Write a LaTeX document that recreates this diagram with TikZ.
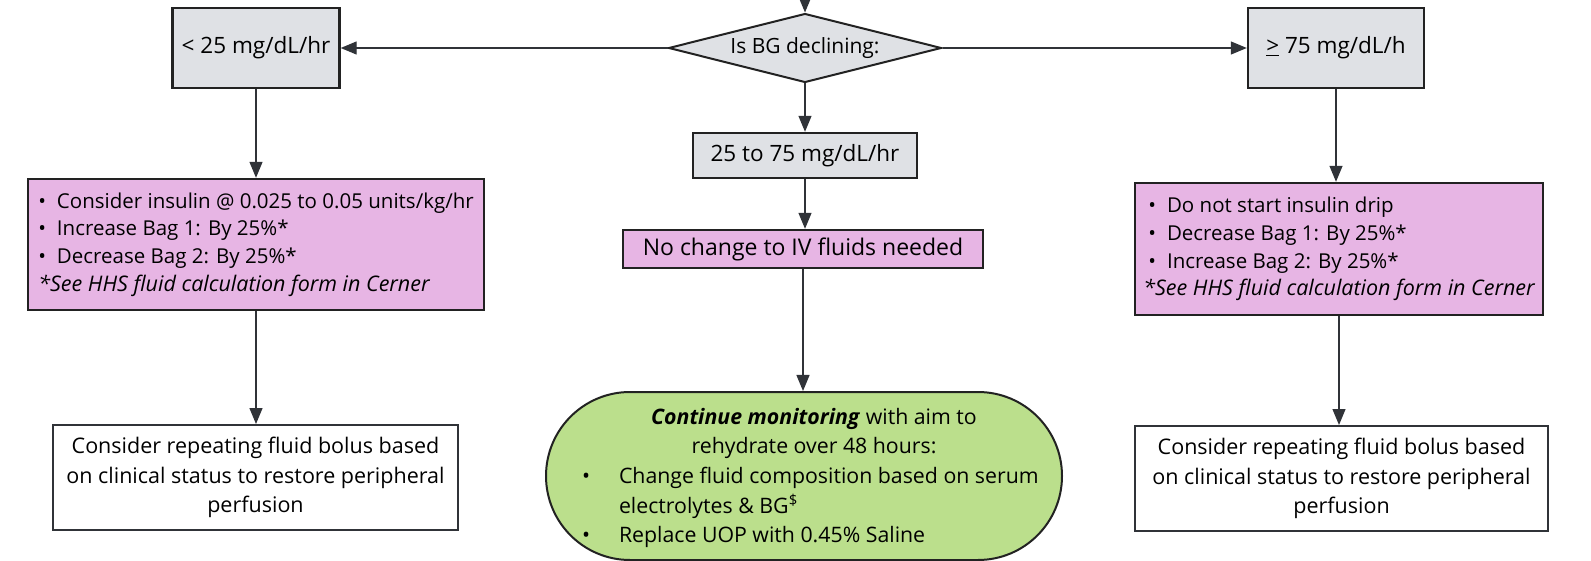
\documentclass[tikz,border=0pt]{standalone}
\usepackage{fontspec}
\setmainfont{Open Sans}
\usetikzlibrary{arrows.meta,shapes.geometric,shapes.misc}
\definecolor{boxgray}{HTML}{DFE1E5}
\definecolor{boxpink}{HTML}{E7B5E4}
\definecolor{boxgreen}{HTML}{BBDF8C}
\definecolor{edge}{HTML}{222222}
\definecolor{wire}{HTML}{303338}
\newcommand{\itemdot}{\textbullet\hspace{11pt}}
\newcommand{\cernernote}{{\fontsize{21.5}{27.8}\selectfont\itshape *See HHS fluid calculation form in Cerner}}
\newcommand{\greenitem}{\noindent\hspace*{13pt}\makebox[37pt][l]{\textbullet}}
\begin{document}
\begin{tikzpicture}[x=1pt,y=-1pt,font=\fontsize{21.5}{30}\selectfont,
    rangebox/.style={draw=edge,line width=2.4pt,fill=boxgray,inner sep=0pt,
      font=\fontsize{22.5}{30}\selectfont},
    actbox/.style={draw=edge,line width=2.4pt,fill=boxpink,inner sep=0pt,align=left,
      font=\fontsize{20.5}{27.8}\selectfont},
    notebox/.style={draw=wire,line width=2pt,fill=white,inner sep=0pt,align=center,
      font=\fontsize{21.5}{29.5}\selectfont},
    link/.style={draw=wire,line width=1.3pt,-{Triangle[length=16pt,width=13pt]}}]
  \useasboundingbox (0,0) rectangle (1591,561);
  \node[diamond,draw=edge,line width=2pt,fill=boxgray,aspect=4,inner sep=0pt,
    minimum width=273,minimum height=69,font=\fontsize{21}{28}\selectfont] (ask) at (805,48) {Is BG declining:};
  \coordinate (entry) at (805,0);
  \node[rangebox,minimum width=167,minimum height=80] (slow) at (256,48) {< 25 mg/dL/hr};
  \node[rangebox,minimum width=176,minimum height=80] (fast) at (1336,48) {\underline{>} 75 mg/dL/h};
  \node[rangebox,minimum width=224,minimum height=45] (mid) at (805,155.5) {25 to 75 mg/dL/hr};
  \node[actbox,minimum width=360,minimum height=38,font=\fontsize{23}{28}\selectfont] (keep) at (803,249)
    {No change to IV fluids needed};
  \node[actbox,minimum width=456,minimum height=131] (slowact) at (256,244.5)
    {\itemdot Consider insulin @ 0.025 to 0.05 units/kg/hr\\
     \itemdot Increase Bag 1: By 25\%*\\
     \itemdot Decrease Bag 2: By 25\%*\\
     \cernernote};
  \node[actbox,minimum width=408,minimum height=132] (fastact) at (1339,249)
    {\hspace{5pt}\itemdot Do not start insulin drip\\
     \hspace{5pt}\itemdot Decrease Bag 1: By 25\%*\\
     \hspace{5pt}\itemdot Increase Bag 2: By 25\%*\\
     \cernernote};
  \node[notebox,minimum width=405,minimum height=105] (slowbolus) at (255.5,477.5)
    {Consider repeating fluid bolus based\\on clinical status to restore peripheral\\perfusion};
  \node[notebox,minimum width=413,minimum height=105] (fastbolus) at (1341.5,478.5)
    {Consider repeating fluid bolus based\\on clinical status to restore peripheral\\perfusion};
  \node[rounded rectangle,draw=edge,line width=2pt,fill=boxgreen,inner sep=0pt,
    minimum width=516,minimum height=168,font=\fontsize{21.3}{29.6}\selectfont] (watch) at (804,476)
    {\makebox[348pt][c]{\begin{minipage}{470pt}\centering
       \vspace*{4pt}
       \hspace*{20pt}\textbf{\textit{Continue monitoring}} with aim to\\
       \hspace*{20pt}rehydrate over 48 hours:\par
       \raggedright
       \hangindent=50pt\hangafter=1\greenitem Change fluid composition based on serum\newline
       electrolytes \& BG\textsuperscript{\$}\par
       \greenitem Replace UOP with 0.45\% Saline
     \end{minipage}}};
  \draw[link] (entry) -- (ask.north);
  \draw[link] (ask.west) -- (slow.east);
  \draw[link] (ask.east) -- (fast.west);
  \draw[link] (ask.south) -- (mid.north);
  \draw[link] (mid.south) -- (mid.south |- keep.north);
  \draw[link] (keep.south) -- (keep.south |- watch.north);
  \draw[link] (slow.south) -- (slow.south |- slowact.north);
  \draw[link] (slowact.south) -- (slowact.south |- slowbolus.north);
  \draw[link] (fast.south) -- (fast.south |- fastact.north);
  \draw[link] (fastact.south) -- (fastact.south |- fastbolus.north);
\end{tikzpicture}
\end{document}
